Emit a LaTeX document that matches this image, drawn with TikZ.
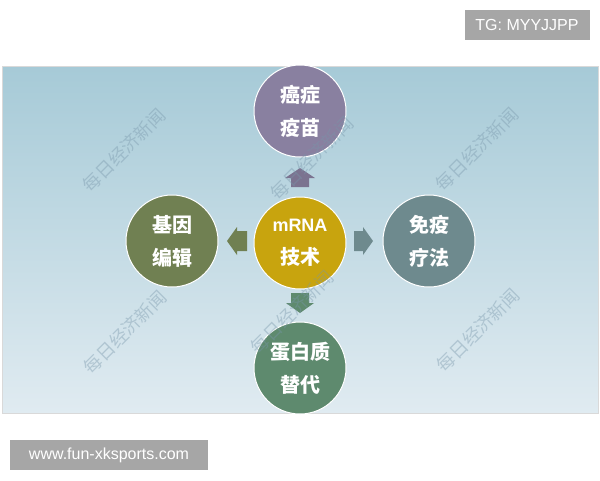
\documentclass[tikz,border=0pt]{standalone}
\usepackage{fontspec}
\usepackage{tikz}
\usepackage{xcolor}
\newfontfamily\cjk{Noto Sans CJK SC}
\newfontfamily\adfont{Liberation Sans}
\definecolor{paneltop}{RGB}{166,202,215}
\definecolor{panelbot}{RGB}{224,235,241}
\definecolor{vaccinec}{RGB}{137,128,160}
\definecolor{corec}{RGB}{200,164,14}
\definecolor{genec}{RGB}{112,128,82}
\definecolor{immunec}{RGB}{110,138,142}
\definecolor{proteinc}{RGB}{94,138,110}
\definecolor{markc}{RGB}{120,150,170}
\definecolor{adgray}{RGB}{166,166,166}
\tikzset{
  circ/.style={circle, draw=white, line width=1pt, minimum size=92pt,
    inner sep=0pt, align=center, text=white,
    font=\cjk\bfseries\fontsize{20}{33}\selectfont},
  adbox/.style={fill=adgray, text=white, font=\adfont\fontsize{16}{18}\selectfont,
    inner sep=0pt},
  wmark/.style={rotate=45, text=markc, opacity=0.4,
    font=\cjk\fontsize{18}{18}\selectfont}
}

\begin{document}
\begin{tikzpicture}[x=1pt,y=-1pt]
  \useasboundingbox (0,0) rectangle (600,480);
  \fill[white] (0,0) rectangle (600,480);
  % background panel
  \shade[top color=paneltop, bottom color=panelbot] (2,66) rectangle (598,413);
  \draw[black!15, line width=0.6pt] (2,66) rectangle (598,413);

  % circles
  \node[circ, fill=corec] (core) at (300,243)
    {{\normalfont\adfont\bfseries\fontsize{18}{18}\selectfont mRNA}\\技术};
  \node[circ, fill=vaccinec] (vaccine) at (300,111) {癌症\\疫苗};
  \node[circ, fill=genec] (gene) at (172,241) {基因\\编辑};
  \node[circ, fill=immunec] (immune) at (429,241) {免疫\\疗法};
  \node[circ, fill=proteinc] (protein) at (300,368) {蛋白质\\替代};

  % block arrows
  \fill[vaccinec!90!black] (285,178) -- (300,168) -- (315,178) -- (309,178)
    -- (309,187) -- (291,187) -- (291,178) -- cycle;
  \fill[genec] (237,227) -- (227,241) -- (237,255) -- (237,251)
    -- (247,251) -- (247,231) -- (237,231) -- cycle;
  \fill[immunec] (363,227) -- (373,241) -- (363,255) -- (363,251)
    -- (354,251) -- (354,231) -- (363,231) -- cycle;
  \fill[proteinc] (286,303) -- (300,313) -- (314,303) -- (309,303)
    -- (309,293) -- (291,293) -- (291,303) -- cycle;

  % watermarks
  \foreach \wx/\wy [count=\i] in {124/150, 312/158, 477/149, 125/332, 292/312, 478/330}
    \node[wmark] (wm\i) at (\wx,\wy) {每日经济新闻};

  % overlay labels
  \node[adbox, minimum width=125pt, minimum height=30pt] (tg) at (527,25)
    {TG: MYYJJPP};
  \node[adbox, minimum width=198pt, minimum height=30pt] (site) at (109,455)
    {www.fun-xksports.com};
\end{tikzpicture}
\end{document}
